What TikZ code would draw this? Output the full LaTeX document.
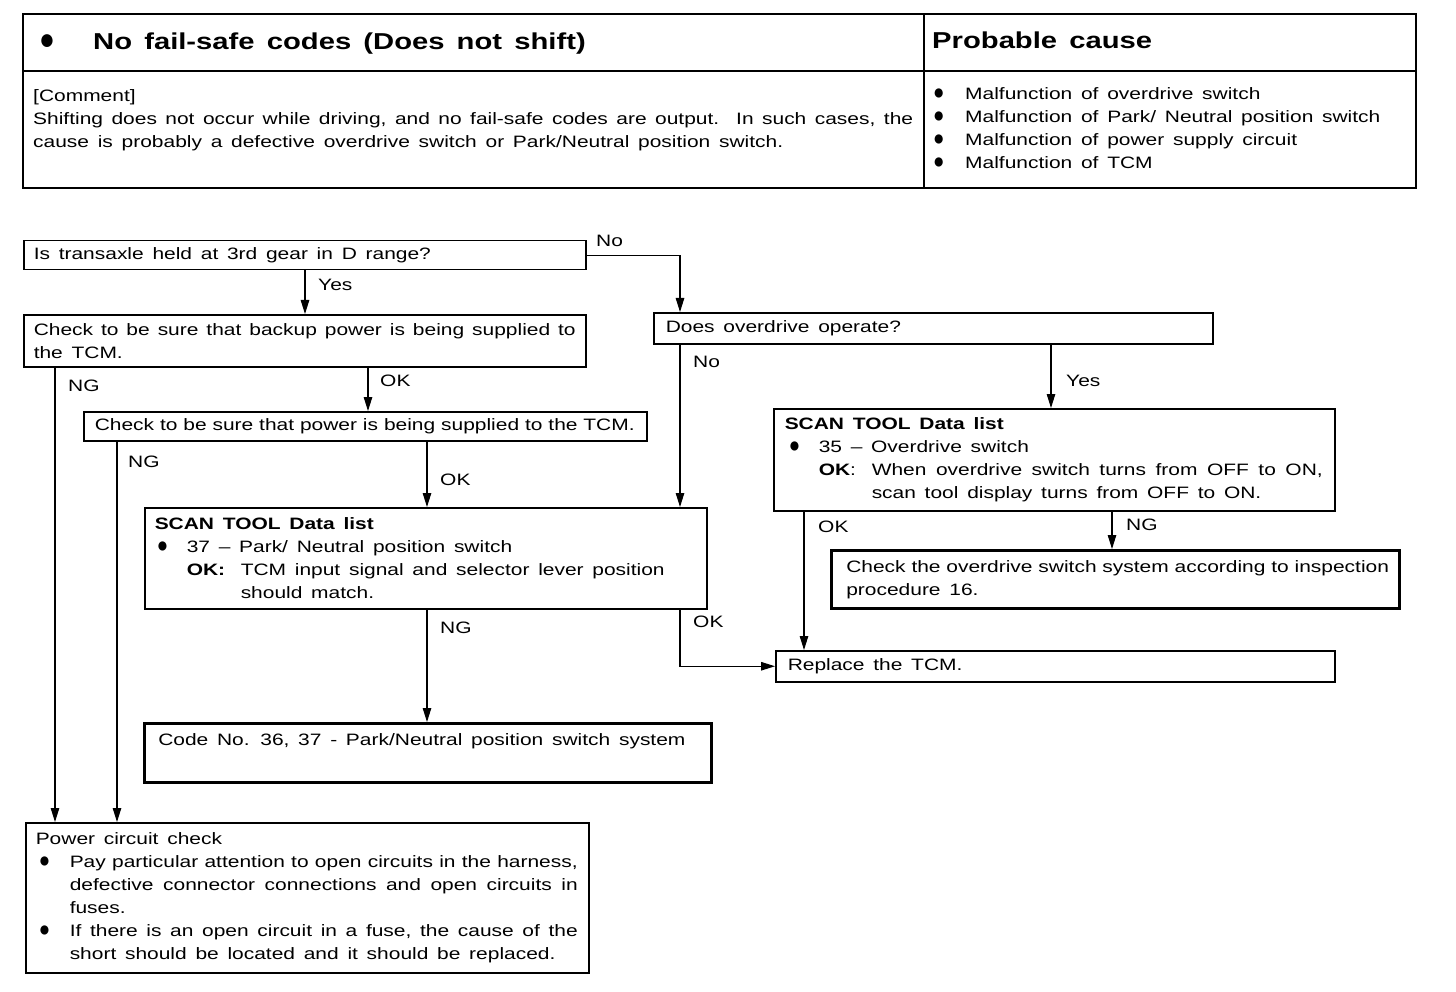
\documentclass[tikz,border=0pt]{standalone}
\usepackage{fontspec}
\setmainfont{Liberation Sans}[FakeStretch=1.27, WordSpace=1.5]
\usetikzlibrary{arrows.meta, positioning}
\tikzstyle{stepbox} = [rectangle, draw=black, line width=1.5pt, anchor=north west, align=flush left, inner xsep=10pt, inner ysep=3pt]
\tikzstyle{thickbox} = [stepbox, line width=2.6pt]
\tikzstyle{arrow} = [line width=1.1pt, -{Triangle[length=14pt, width=8.5pt]}]
\tikzstyle{lbl} = [anchor=west, inner sep=0pt]
\tikzstyle{head} = [anchor=west, inner sep=0pt, font=\fontsize{23}{28}\selectfont\bfseries]
\newcommand{\dotmark}{\scalebox{0.9}[1.3]{●}}

\begin{document}
\begin{tikzpicture}[x=1pt, y=-1pt, font=\fontsize{16.5}{23}\selectfont]
        \useasboundingbox (0,0) rectangle (1456,992);

        % header table
        \draw [line width=2.6pt] (23,14) rectangle (1416,188);
        \draw [line width=1.8pt] (23,71) -- (1416,71);
        \draw [line width=1.8pt] (924,14) -- (924,188);
        \node (title) [head] at (39,44) {\makebox[54pt][l]{\dotmark}No fail-safe codes (Does not shift)};
        \node (cause) [head] at (932,40) {Probable cause};
        \node (comment) [anchor=north west, inner sep=0pt, align=left] at (33,89) {[Comment]\\
            \makebox[880pt][s]{Shifting does not occur while driving, and no fail-safe codes are output.\ \ In such cases, the}\\
            cause is probably a defective overdrive switch or Park/Neutral position switch.};
        \node (causes) [anchor=north west, inner sep=0pt, align=left] at (933,87.5) {\makebox[32pt][l]{\dotmark}Malfunction of overdrive switch\\
            \makebox[32pt][l]{\dotmark}Malfunction of Park/ Neutral position switch\\
            \makebox[32pt][l]{\dotmark}Malfunction of power supply circuit\\
            \makebox[32pt][l]{\dotmark}Malfunction of TCM};

        % boxes
        \node (q1) [stepbox, text width=542pt, minimum height=29pt] at (23,240) {Is transaxle held at 3rd gear in D range?};
        \node (chk1) [stepbox, text width=542pt, minimum height=52pt] at (23,314) {\makebox[542pt][s]{Check to be sure that backup power is being supplied to}\\the TCM.};
        \node (q2) [stepbox, text width=535pt, minimum height=31pt, inner xsep=12pt] at (653,312) {Does overdrive operate?};
        \node (chk2) [stepbox, text width=541pt, minimum height=29pt, inner xsep=11pt] at (83,411) {\makebox[540pt][s]{Check to be sure that power is being supplied to the TCM.}};
        \node (scan1) [stepbox, text width=542pt, minimum height=101pt] at (144,507) {\textbf{SCAN TOOL Data list}\\
            \makebox[32pt][l]{\hspace{2pt}\dotmark}37 -- Park/ Neutral position switch\\
            \hspace*{32pt}\makebox[54pt][l]{\textbf{OK:}}TCM input signal and selector lever position\\
            \hspace*{86pt}should match.};
        \node (scan2) [stepbox, text width=539pt, minimum height=102pt, inner xsep=11pt] at (773,408) {\textbf{SCAN TOOL Data list}\\
            \makebox[34pt][l]{\hspace{4pt}\dotmark}35 -- Overdrive switch\\
            \hspace*{34pt}\makebox[53pt][l]{\textbf{OK}:}\makebox[451pt][s]{When overdrive switch turns from OFF to ON,}\\
            \hspace*{87pt}scan tool display turns from OFF to ON.};
        \node (odsw) [thickbox, text width=538pt, minimum height=58pt, inner xsep=15pt] at (830,549) {\makebox[538pt][s]{Check the overdrive switch system according to inspection}\\procedure 16.};
        \node (repl) [stepbox, text width=535pt, minimum height=31pt, inner xsep=12pt] at (775,650) {Replace the TCM.};
        \node (pnsw) [thickbox, text width=539pt, minimum height=59pt, inner xsep=14pt, text depth=26pt] at (143,722) {Code No. 36, 37 - Park/Neutral position switch system};
        \node (power) [stepbox, text width=543pt, minimum height=150pt] at (25,822) {Power circuit check\\
            \makebox[34pt][l]{\hspace{3pt}\dotmark}\makebox[508pt][s]{Pay particular attention to open circuits in the harness,}\\
            \hspace*{34pt}\makebox[508pt][s]{defective connector connections and open circuits in}\\
            \hspace*{34pt}fuses.\\
            \makebox[34pt][l]{\hspace{3pt}\dotmark}\makebox[508pt][s]{If there is an open circuit in a fuse, the cause of the}\\
            \hspace*{34pt}short should be located and it should be replaced.};

        % connectors
        \draw [arrow] ([xshift=282pt]q1.south west) -- ([xshift=282pt]chk1.north west);
        \draw [arrow] (q1.east) -| ([xshift=27pt]q2.north west);
        \draw [arrow] ([xshift=32pt]chk1.south west) -- ([xshift=30pt]power.north west);
        \draw [arrow] ([xshift=345pt]chk1.south west) -- ([xshift=285pt]chk2.north west);
        \draw [arrow] ([xshift=34pt]chk2.south west) -- ([xshift=92pt]power.north west);
        \draw [arrow] ([xshift=344pt]chk2.south west) -- ([xshift=283pt]scan1.north west);
        \draw [arrow] ([xshift=27pt]q2.south west) -- ([xshift=536pt]scan1.north west);
        \draw [arrow] ([xshift=398pt]q2.south west) -- ([xshift=278pt]scan2.north west);
        \draw [arrow] ([xshift=283pt]scan1.south west) -- ([xshift=284pt]pnsw.north west);
        \draw [arrow] ([xshift=536pt]scan1.south west) |- (repl.west);
        \draw [arrow] ([xshift=31pt]scan2.south west) -- ([xshift=29pt]repl.north west);
        \draw [arrow] ([xshift=339pt]scan2.south west) -- ([xshift=282pt]odsw.north west);

        % connector labels
        \node (yes1) [lbl] at (318,285) {Yes};
        \node (no1) [lbl] at (596,241) {No};
        \node (ng1) [lbl] at (68,386) {NG};
        \node (ok1) [lbl] at (380,381) {OK};
        \node (ng2) [lbl] at (128,462) {NG};
        \node (ok2) [lbl] at (440,480) {OK};
        \node (no2) [lbl] at (693,362) {No};
        \node (yes2) [lbl] at (1066,381) {Yes};
        \node (ng3) [lbl] at (440,628) {NG};
        \node (ok3) [lbl] at (693,622) {OK};
        \node (ok4) [lbl] at (818,527) {OK};
        \node (ng4) [lbl] at (1126,525) {NG};
    \end{tikzpicture}
\end{document}
